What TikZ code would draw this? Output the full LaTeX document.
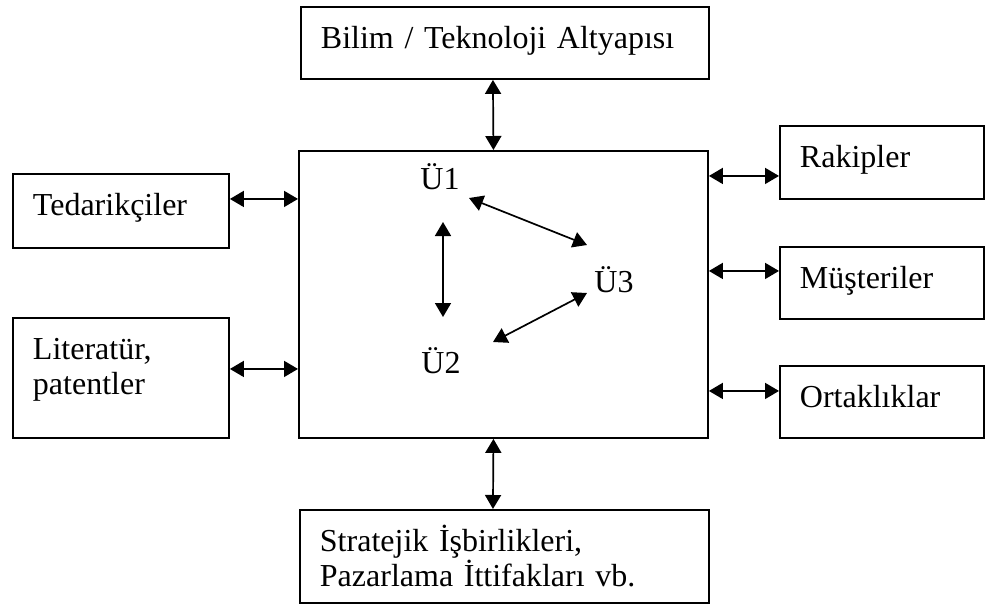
\documentclass[tikz,border=0pt]{standalone}
\usepackage{fontspec}
\setmainfont{Liberation Serif}
\usetikzlibrary{arrows.meta}

\begin{document}
\begin{tikzpicture}[x=1pt, y=-1pt,
        font=\fontsize{32}{35}\selectfont,
        box/.style={draw, line width=1.9pt, anchor=north west, align=left, inner xsep=20pt, inner ysep=0pt, text height=42pt},
        link/.style={line width=1.7pt, {Triangle[length=14pt,width=16pt]}-{Triangle[length=14pt,width=16pt]}},
        tag/.style={inner sep=0pt, anchor=base}]
        \useasboundingbox (0,0) rectangle (987,607);
        \node[box, text width=368pt, text depth=30pt] (bilim) at (300,6) {Bilim / Teknoloji Altyap\i s\i};
        \node[box, minimum width=409pt, minimum height=287pt] (core) at (298,150) {};
        \node[box, text width=176pt, text depth=32pt] (ted) at (12,173) {Tedarikçiler};
        \node[box, text width=176pt, text depth=78pt] (lit) at (12,317) {Literatür,\\patentler};
        \node[box, text width=164pt, text depth=31pt] (rak) at (779,125) {Rakipler};
        \node[box, text width=164pt, text depth=30pt] (mus) at (779,246) {Müşteriler};
        \node[box, text width=164pt, text depth=30pt] (ort) at (779,365) {Ortakl\i klar};
        \node[box, text width=369pt, text depth=51pt] (strat) at (299,509) {Stratejik İşbirlikleri,\\Pazarlama İttifaklar\i\ vb.};
        \node[tag] (u1) at (440,189) {Ü1};
        \node[tag] (u2) at (441,373) {Ü2};
        \node[tag] (u3) at (614,292) {Ü3};
        \draw[link] ([xshift=-12pt]bilim.south) -- ([xshift=-10pt]core.north);
        \draw[link] ([xshift=-10pt]core.south) -- ([xshift=-11.5pt]strat.north);
        \draw[link] ([yshift=12pt]ted.east) -- ([yshift=12pt]ted.east -| core.west);
        \draw[link] ([yshift=9pt]lit.east) -- ([yshift=9pt]lit.east -| core.west);
        \draw[link] ([yshift=-13.5pt]rak.west -| core.east) -- ([yshift=-13.5pt]rak.west);
        \draw[link] ([yshift=12pt]mus.west -| core.east) -- ([yshift=12pt]mus.west);
        \draw[link] ([yshift=11pt]ort.west -| core.east) -- ([yshift=11pt]ort.west);
        \draw[link] ([shift={(29pt,-9pt)}]u1.base) -- ([shift={(-27pt,47pt)}]u3.base);
        \draw[link] ([shift={(3pt,-33pt)}]u1.base) -- ([shift={(2pt,56pt)}]u2.base);
        \draw[link] ([shift={(52pt,31pt)}]u2.base) -- ([shift={(-27pt,-1pt)}]u3.base);
    \end{tikzpicture}
\end{document}
